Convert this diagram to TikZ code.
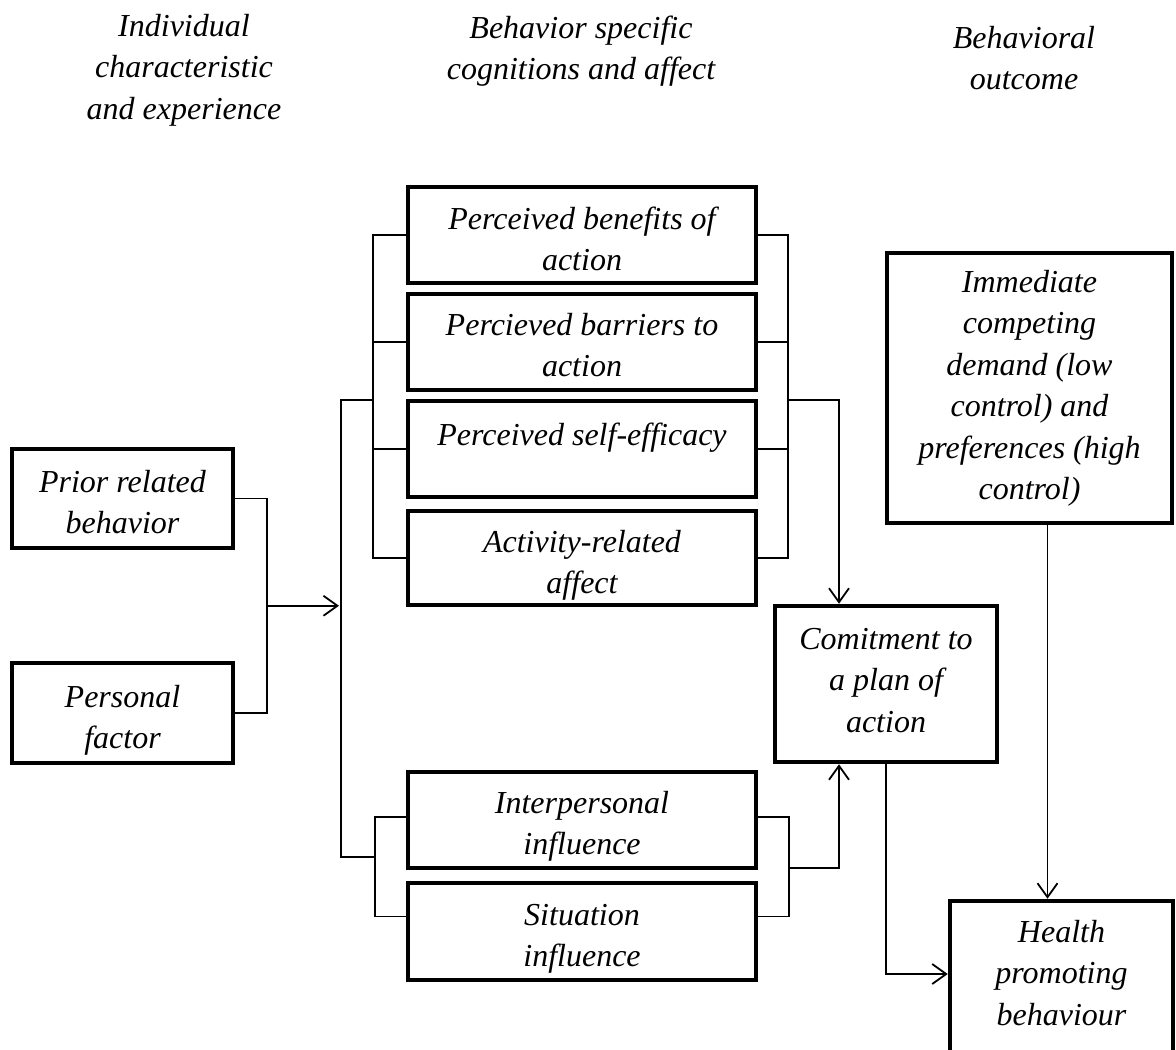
\documentclass[tikz,border=0pt]{standalone}
\usepackage{fontspec}
\setmainfont{Liberation Serif}
\usetikzlibrary{arrows.meta,calc}
\newcommand{\boxtxt}[4]{\parbox[c][#2pt][t]{#1pt}{\centering\rule{0pt}{#3pt}#4}}
\tikzset{
  box/.style={draw, line width=4.5pt, inner sep=0pt, font=\fontsize{32}{41.5}\selectfont\itshape},
  hdr/.style={inner sep=0pt, align=center, anchor=north, font=\fontsize{32}{41.5}\selectfont\itshape},
  conn/.style={line width=1.8pt},
  arr/.style={line width=1.8pt, -{Straight Barb[length=14pt,width=20pt]}}
}
\begin{document}
\begin{tikzpicture}[x=1pt,y=-1pt]
\clip (0,0) rectangle (1176,1050);
\fill[white] (0,0) rectangle (1176,1050);
% headers
\node[hdr] (h1) at (184,0) {\rule{0pt}{36pt}Individual\\characteristic\\and experience};
\node[hdr] (h2) at (581,0) {\rule{0pt}{38pt}Behavior specific\\cognitions and affect};
\node[hdr] (h3) at (1024,0) {\rule{0pt}{48pt}Behavioral\\outcome};
% boxes
\node[box] (prior) at (122.5,498.5) {\boxtxt{221}{99}{43}{Prior related\\behavior}};
\node[box] (pers) at (122.5,713) {\boxtxt{221}{100}{44}{Personal\\factor}};
\node[box] (ben) at (582,235) {\boxtxt{348}{96}{42}{Perceived benefits of\\action}};
\node[box] (bar) at (582,342) {\boxtxt{348}{96}{41}{Percieved barriers to\\action}};
\node[box] (self) at (582,449) {\boxtxt{348}{96}{44}{Perceived self-efficacy}};
\node[box] (act) at (582,558) {\boxtxt{348}{94}{41}{Activity-related\\affect}};
\node[box] (intp) at (582,820) {\boxtxt{348}{96}{41}{Interpersonal\\influence}};
\node[box] (sit) at (582,931.5) {\boxtxt{348}{97}{42}{Situation\\influence}};
\node[box] (comm) at (886,684) {\boxtxt{222}{156}{43}{Comitment to\\a plan of\\action}};
\node[box] (imm) at (1029.5,388) {\boxtxt{285}{270}{39}{Immediate\\competing\\demand (low\\control) and\\preferences (high\\control)}};
\node[box] (health) at (1061.5,980.5) {\boxtxt{223}{159}{41}{Health\\promoting\\behaviour}};
% helper coordinates
\coordinate (pjx) at (267,0);
\coordinate (mainx) at (341,0);
\coordinate (ulx) at (373,0);
\coordinate (urx) at (788,0);
\coordinate (llx) at (375,0);
\coordinate (lrx) at (789,0);
\coordinate (ax) at (839,0);
\coordinate (mtop) at (341,400);
\coordinate (mbot) at (341,857);
\coordinate (lout) at (789,868);
% prior / personal
\draw[conn] (prior.east) -- (prior.east -| pjx) -- (pers.east -| pjx) -- (pers.east);
\coordinate (pjm) at ($(prior.east -| pjx)!0.5!(pers.east -| pjx)$);
\draw[arr] (pjm) -- ([xshift=-2pt]pjm -| mainx);
% main vertical
\draw[conn] (mtop -| ulx) -- (mtop) -- (mbot) -- (mbot -| llx);
% upper brackets
\draw[conn] (ben.west) -- (ben.west -| ulx) -- (act.west -| ulx) -- (act.west);
\draw[conn] (bar.west) -- (bar.west -| ulx);
\draw[conn] (self.west) -- (self.west -| ulx);
\draw[conn] (ben.east) -- (ben.east -| urx) -- (act.east -| urx) -- (act.east);
\draw[conn] (bar.east) -- (bar.east -| urx);
\draw[conn] (self.east) -- (self.east -| urx);
\draw[arr] (mtop -| urx) -- (mtop -| ax) -- (comm.north -| ax);
% lower brackets
\coordinate (ib) at ([yshift=3pt]intp.west);
\coordinate (sb) at ([yshift=15pt]sit.west);
\coordinate (ibr) at ([yshift=3pt]intp.east);
\coordinate (sbr) at ([yshift=15pt]sit.east);
\draw[conn] (ib) -- (ib -| llx) -- (sb -| llx) -- (sb);
\draw[conn] (ibr) -- (ibr -| lrx) -- (sbr -| lrx) -- (sbr);
\draw[arr] (lout) -- (lout -| ax) -- (comm.south -| ax);
% to health
\coordinate (hl) at ([yshift=6.5pt]health.west);
\draw[arr] (comm.south) -- (comm.south |- hl) -- (hl);
\draw[arr] ([xshift=18pt]imm.south) -- ([xshift=18pt]imm.south |- health.north);
\end{tikzpicture}
\end{document}
